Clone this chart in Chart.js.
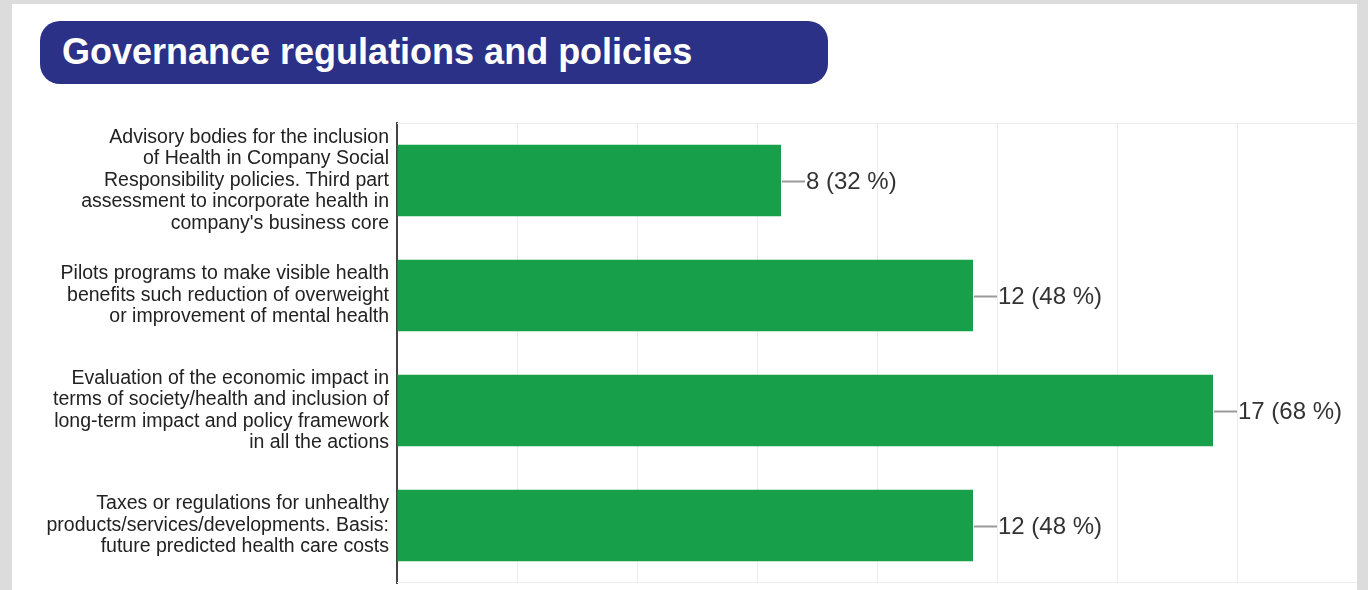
<!DOCTYPE html>
<html>
<head>
<meta charset="utf-8">
<script src="https://cdn.jsdelivr.net/npm/chart.js@4/dist/chart.umd.min.js"></script>
<style>
  html, body { margin: 0; padding: 0; }
  body { width: 1368px; height: 590px; background: #dcdcdc; position: relative; overflow: hidden; }
  #panel { position: absolute; left: 12px; top: 4px; width: 1345px; height: 586px; background: #ffffff; }
  #titlebox { position: absolute; left: 40px; top: 21px; width: 788px; height: 63px; border-radius: 20px; background: #2b3186; }
  #title { position: absolute; left: 62px; top: 33.5px; font: bold 36px "Liberation Sans", Arial, sans-serif; line-height: 36px; color: #ffffff; white-space: nowrap; }
  #wrap { position: absolute; left: 12px; top: 100px; width: 1345px; height: 490px; }
</style>
</head>
<body>
<div id="panel"></div>
<div id="titlebox"></div>
<div id="title">Governance regulations and policies</div>
<div id="wrap"><canvas id="c" width="1345" height="490"></canvas></div>
<script>
const categories = [
  ["Advisory bodies for the inclusion", "of Health in Company Social", "Responsibility policies. Third part", "assessment to incorporate health in", "company's business core"],
  ["Pilots programs to make visible health", "benefits such reduction of overweight", "or improvement of mental health"],
  ["Evaluation of the economic impact in", "terms of society/health and inclusion of", "long-term impact and policy framework", "in all the actions"],
  ["Taxes or regulations for unhealthy", "products/services/developments. Basis:", "future predicted health care costs"]
];
const counts = [8, 12, 17, 12];
const percents = [32, 48, 68, 48];
const axisMax = 20;
const gridStep = 2.5;

const frameLines = {
  id: 'frameLines',
  beforeDatasetsDraw(chart) {
    const { ctx, chartArea: a } = chart;
    ctx.save();
    ctx.strokeStyle = '#ececec';
    ctx.lineWidth = 1;
    ctx.beginPath();
    ctx.moveTo(a.left, a.top + 0.5); ctx.lineTo(a.right, a.top + 0.5);
    ctx.moveTo(a.left, a.bottom - 0.5); ctx.lineTo(a.right, a.bottom - 0.5);
    ctx.stroke();
    ctx.restore();
  }
};

const valueLabels = {
  id: 'valueLabels',
  afterDatasetsDraw(chart) {
    const { ctx } = chart;
    const meta = chart.getDatasetMeta(0);
    ctx.save();
    meta.data.forEach((bar, i) => {
      const x = bar.x, y = bar.y;
      ctx.strokeStyle = '#9a9a9a';
      ctx.lineWidth = 2;
      ctx.beginPath();
      ctx.moveTo(x + 1, y + 1); ctx.lineTo(x + 24, y + 1);
      ctx.stroke();
      ctx.fillStyle = '#333333';
      ctx.font = '24px "Liberation Sans", Arial, sans-serif';
      ctx.textAlign = 'left';
      ctx.textBaseline = 'middle';
      ctx.fillText(counts[i] + ' (' + percents[i] + ' %)', x + 25, y + 2);
    });
    ctx.restore();
  }
};

new Chart(document.getElementById('c'), {
  type: 'bar',
  data: {
    labels: categories,
    datasets: [{
      data: counts,
      backgroundColor: '#179f4a',
      borderWidth: 0,
      barPercentage: 0.62,
      categoryPercentage: 1.0
    }]
  },
  options: {
    indexAxis: 'y',
    responsive: false,
    animation: false,
    devicePixelRatio: 1,
    layout: { padding: { top: 23, bottom: 7, left: 0, right: 0 } },
    plugins: { legend: { display: false }, tooltip: { enabled: false } },
    scales: {
      x: {
        min: 0, max: axisMax,
        ticks: { display: false, stepSize: gridStep },
        grid: { color: '#ececec', lineWidth: 1, drawTicks: false },
        border: { display: false },
        afterFit(scale) { scale.height = 0; scale.paddingLeft = 0; scale.paddingRight = 0; }
      },
      y: {
        ticks: {
          color: '#222222',
          padding: 8,
          font: { family: '"Liberation Sans", Arial, sans-serif', size: 19.5, lineHeight: 1.1 }
        },
        grid: { display: false, drawTicks: false },
        border: { display: true, color: '#444444', width: 2 },
        afterFit(scale) { scale.width = 385; scale.paddingTop = 0; scale.paddingBottom = 0; }
      }
    }
  },
  plugins: [frameLines, valueLabels]
});
</script>
</body>
</html>
